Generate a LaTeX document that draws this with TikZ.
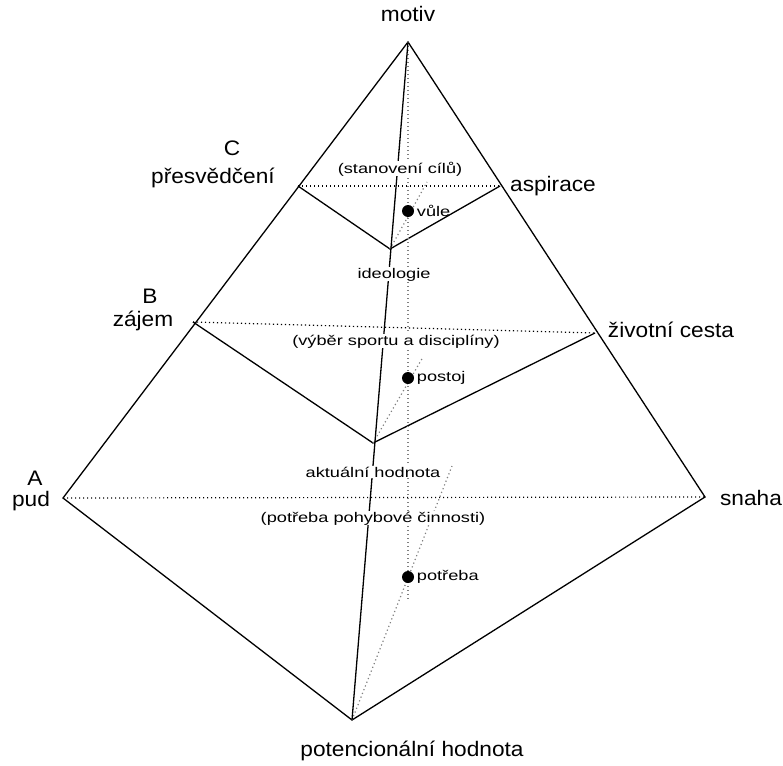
\documentclass[tikz,border=0pt]{standalone}
\usepackage{fontspec}
\setmainfont{Liberation Sans}
\newfontfamily\labelfont[FakeStretch=1.08]{Liberation Sans}
\newfontfamily\notefont[FakeStretch=1.3]{Liberation Sans}
\begin{document}
\begin{tikzpicture}[x=1pt,y=-1pt,
    edge/.style={line width=1.3pt},
    level/.style={line width=1.2pt, dash pattern=on 1.2pt off 2.8pt},
    trace/.style={gray, line width=1.2pt, dash pattern=on 1.2pt off 2.8pt},
    corner/.style={font=\labelfont\fontsize{21}{22}\selectfont, inner sep=0pt, anchor=base},
    note/.style={font=\notefont\fontsize{14}{15}\selectfont, fill=white, inner sep=0.5pt, anchor=base},
    stage/.style={circle, fill=black, inner sep=0pt, minimum size=12pt}]
  \useasboundingbox (0,0) rectangle (783,765);
  % corners of the pyramid
  \coordinate (top) at (408,42);
  \coordinate (pud) at (63,498);
  \coordinate (snaha) at (705,497);
  \coordinate (base) at (352,720);
  % points on the edges and inner corners
  \coordinate (C) at (298,186);
  \coordinate (asp) at (500,186);
  \coordinate (B) at (193,322);
  \coordinate (cesta) at (595,333);
  \coordinate (ideo) at (390,249);
  \coordinate (akt) at (373,443);
  \coordinate (down) at (408,600);

  % outer outline and the three V shapes
  \draw[edge] (pud) -- (top) -- (snaha) -- (base) -- cycle;
  \draw[edge] (C) -- (ideo) -- (asp);
  \draw[edge] (B) -- (akt) -- (cesta);
  % dotted levels
  \foreach \a/\b in {C/asp, B/cesta, pud/snaha} {
    \draw[level] (\a) -- (\b);
  }
  % vertical and slanted traces
  \draw[trace] (top) -- (down);
  \draw[trace] (ideo) -- (427,182);
  \draw[trace] (akt) -- (423,357);
  \draw[trace] (base) -- (452,466);
  % axis of values
  \draw[edge] (top) -- (base);

  % labels round the pyramid
  \node[corner] (motivL) at (408,22) {motiv};
  \node[corner] (cL) at (232,155) {C};
  \node[corner] (cW) at (213,183) {přesvědčení};
  \node[corner] (bL) at (150,303) {B};
  \node[corner] (bW) at (143,326) {zájem};
  \node[corner] (aL) at (35,485) {A};
  \node[corner] (aW) at (31,506) {pud};
  \node[corner] (aspL) at (553,191) {aspirace};
  \node[corner] (cestaL) at (671,337) {životní cesta};
  \node[corner] (snahaL) at (751,505) {snaha};
  \node[corner] (baseL) at (412,756) {potencionální hodnota};

  % notes inside
  \node[note] (cile) at (400,173) {(stanovení cílů)};
  \node[note] (ideoL) at (394,278) {ideologie};
  \node[note] (sport) at (396,345) {(výběr sportu a disciplíny)};
  \node[note] (aktL) at (373,477) {aktuální hodnota};
  \node[note] (pohyb) at (373,522) {(potřeba pohybové činnosti)};

  % stages with dots
  \foreach \y/\name/\txt in {211/vule/vůle, 378/postoj/postoj, 577/potreba/potřeba} {
    \node[stage] (\name) at (408,\y) {};
    \node[note, anchor=west, fill=none] at ([xshift=2pt]\name.east) {\txt};
  }
\end{tikzpicture}
\end{document}
